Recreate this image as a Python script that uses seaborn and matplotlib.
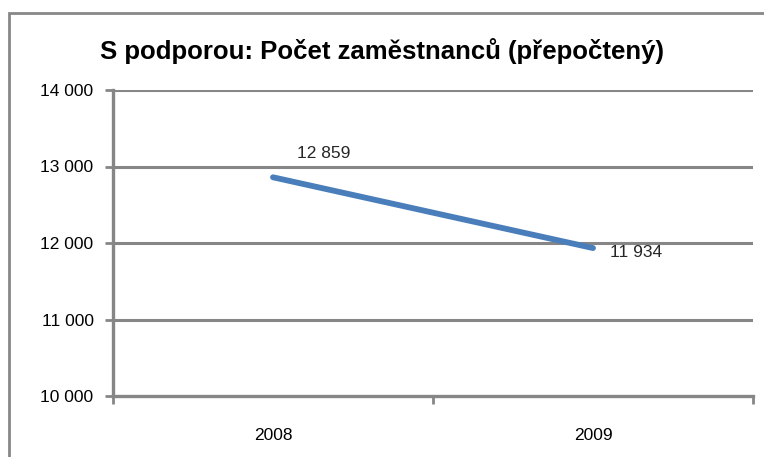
import matplotlib
matplotlib.use("Agg")
import matplotlib.pyplot as plt
import seaborn as sns
import pandas as pd
from matplotlib.patches import Rectangle
from matplotlib.ticker import FuncFormatter

years = ["2008", "2009"]
values = [12859, 11934]
value_labels = ["12 859", "11 934"]
yticks = [10000, 11000, 12000, 13000, 14000]
title = "S podporou: Počet zaměstnanců (přepočtený)"

sns.set_theme(style="white")
plt.rcParams["font.family"] = ["Liberation Sans", "DejaVu Sans"]

W, H = 764, 457
fig = plt.figure(figsize=(W / 100, H / 100), dpi=100)
ax = fig.add_axes([113 / W, 1 - 396 / H, (753 - 113) / W, (396 - 90) / H])

df = pd.DataFrame({"year": years, "value": values})
df["pos"] = range(len(years))
sns.lineplot(data=df, x="pos", y="value", ax=ax, color="#4A7EBB", linewidth=4.2,
             solid_capstyle="round")

grid_c = "#868686"
fs = 12.5
ax.set_xlim(-0.5, len(years) - 0.5)
ax.set_ylim(yticks[0], yticks[-1])
ax.set_yticks(yticks)
ax.yaxis.set_major_formatter(FuncFormatter(lambda v, p: f"{int(v):,}".replace(",", " ")))
ax.set_xticks([-0.5, 0.5, 1.5])
ax.set_xticklabels([])
for i, y in enumerate(years):
    ax.text(i, -0.13, y, transform=ax.get_xaxis_transform(), ha="center", va="center",
            fontsize=fs, color="black")
for y in yticks[1:]:
    ax.axhline(y, color=grid_c, linewidth=2.2, zorder=0)
ax.set_xlabel("")
ax.set_ylabel("")
for s in ["top", "right"]:
    ax.spines[s].set_visible(False)
for s in ["left", "bottom"]:
    ax.spines[s].set_color(grid_c)
    ax.spines[s].set_linewidth(2.4)
ax.tick_params(axis="y", which="both", left=True, length=6, width=2, color=grid_c,
               labelsize=fs, labelcolor="black", pad=8)
ax.tick_params(axis="x", which="both", bottom=True, length=6, width=2, color=grid_c)

# data labels
ax.annotate(value_labels[0], (0, values[0]), xytext=(17, 12), textcoords="offset points",
            fontsize=fs, ha="left", va="bottom")
ax.annotate(value_labels[1], (1, values[1]), xytext=(12, -3), textcoords="offset points",
            fontsize=fs, ha="left", va="center")

fig.text(382 / W, 1 - 51 / H, title, ha="center", va="center", fontsize=18.5,
         fontweight="bold", color="black")

# chart area border (partially clipped)
fig.patches.append(Rectangle((9 / W, -0.1), 1.2, 1 - 13 / H + 0.1, transform=fig.transFigure,
                             fill=False, edgecolor="#888888", linewidth=2, zorder=10))

fig.savefig("out.png", dpi=100, facecolor="white")
